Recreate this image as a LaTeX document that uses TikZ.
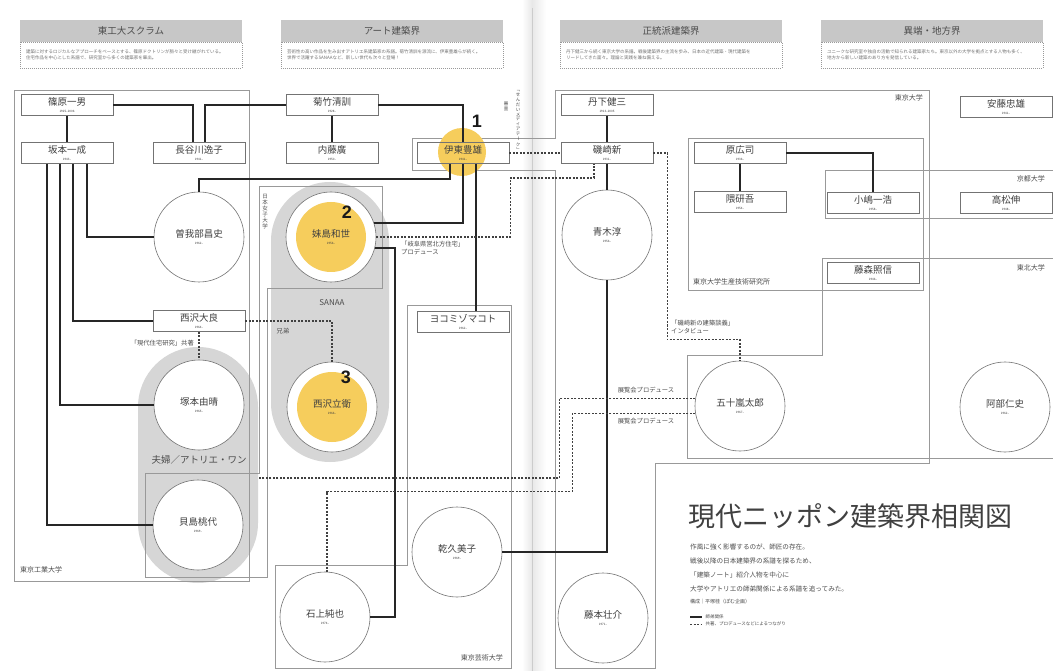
\documentclass[tikz,border=0pt]{standalone}
\usepackage{fontspec}
\setmainfont{Noto Sans CJK JP}
\newfontfamily\numfont{Liberation Sans}
\definecolor{hl}{RGB}{246,205,92}
\newcommand{\pn}[2]{#1\\[-2.5pt]{\fontsize{3}{3}\selectfont #2}}
\newcommand{\vr}[1]{\rotatebox[origin=c]{-90}{#1}}

\begin{document}
\begin{tikzpicture}[x=1pt,y=-1pt,
  pbox/.style={draw=black!55,line width=.6pt,fill=white,minimum width=92pt,
    minimum height=21pt,inner sep=0pt,align=center,
    font=\fontsize{9.5}{10}\selectfont,text=black!75},
  pring/.style={pbox,circle,minimum size=90pt},
  hiring/.style={pring,path picture={\fill[hl] (path picture bounding box.center) circle (35pt);}},
  zone/.style={draw=black!40,line width=.6pt},
  blob/.style={fill=black!16,inner sep=0pt},
  tie/.style={line width=1.6pt,black!85},
  link/.style={line width=1.1pt,black!75,dash pattern=on 2pt off 1.5pt},
  note/.style={font=\fontsize{6.3}{7.5}\selectfont,text=black!70,inner sep=1pt,align=left},
  uni/.style={font=\fontsize{7}{8}\selectfont,text=black!70,inner sep=0pt},
  hdr/.style={fill=black!22,minimum width=222pt,minimum height=22pt,inner sep=0pt,
    font=\fontsize{9.5}{10}\selectfont,text=black!70},
  desc/.style={draw=black!40,dash pattern=on 1pt off 1pt,minimum width=222pt,
    minimum height=26pt,inner sep=0pt,align=left,text width=210pt,
    font=\fontsize{4.5}{6.5}\selectfont,text=black!55},
  num/.style={font=\numfont\bfseries\fontsize{18}{18}\selectfont,text=black!90,inner sep=0pt}]
\useasboundingbox (0,0) rectangle (1053,671);
\fill[white] (0,0) rectangle (1053,671);
\shade[left color=white,right color=black!9] (522,0) rectangle (532,671);
\shade[left color=black!9,right color=white] (532,0) rectangle (546,671);
\draw[black!20,line width=.5pt] (532,8) -- (532,671);

\node[hdr] (h1) at (131,31) {東工大スクラム};
\node[desc] (d1) at (131,55) {建築に対するロジカルなアプローチをベースとする、篠原ドクトリンが脈々と受け継がれている。\\住宅作品を中心とした系譜で、研究室から多くの建築家を輩出。};
\node[hdr] (h2) at (392,31) {アート建築界};
\node[desc] (d2) at (392,55) {芸術性の高い作品を生み出すアトリエ系建築家の系譜。菊竹清訓を源流に、伊東豊雄らが続く。\\世界で活躍するSANAAなど、新しい世代も次々と登場！};
\node[hdr] (h3) at (671,31) {正統派建築界};
\node[desc] (d3) at (671,55) {丹下健三から続く東京大学の系譜。戦後建築界の主流を歩み、日本の近代建築・現代建築を\\リードしてきた面々。理論と実践を兼ね備える。};
\node[hdr] (h4) at (932,31) {異端・地方界};
\node[desc] (d4) at (932,55) {ユニークな研究室や独自の活動で知られる建築家たち。東京以外の大学を拠点とする人物も多く、\\地方から新しい建築のあり方を発信している。};

\node[blob,minimum width=118pt,minimum height=280pt,rounded corners=59pt] (sanaa) at (330,322) {};
\node[blob,minimum width=120pt,minimum height=236pt,rounded corners=60pt] (bowwow) at (198,465) {};

\draw[zone] (14,90) rectangle (249,581);
\draw[zone] (259,186) -- (382,186) -- (382,288) -- (267,288) -- (267,577)
  -- (145,577) -- (145,473) -- (259,473) -- cycle;
\draw[zone] (555,90) -- (929,90) -- (929,463) -- (655,463) -- (655,668)
  -- (555,668) -- (555,170) -- (412,170) -- (412,138) -- (555,138) -- cycle;
\draw[zone] (688,138) rectangle (923,290);
\draw[zone] (825,170) rectangle (1060,218);
\draw[zone] (822,258) -- (1060,258) -- (1060,458) -- (687,458) -- (687,355)
  -- (822,355) -- cycle;
\draw[zone] (407,305) -- (511,305) -- (511,668) -- (275,668) -- (275,565)
  -- (407,565) -- cycle;

\node[uni,anchor=west] (ltit) at (20,570) {東京工業大学};
\node[uni,align=center,font=\fontsize{5.5}{6}\selectfont] (ljwu) at (265,212) {日\\本\\女\\子\\大\\学};
\node[uni,anchor=east] (lut) at (923,98) {東京大学};
\node[uni,anchor=west] (liis) at (693,282) {東京大学生産技術研究所};
\node[uni,anchor=east] (lku) at (1045,179) {京都大学};
\node[uni,anchor=east] (ltu) at (1045,268) {東北大学};
\node[uni,anchor=east] (lgei) at (503,658) {東京芸術大学};
\node[uni,font=\fontsize{8}{9}\selectfont] (lsanaa) at (332,303) {SANAA};
\node[uni,font=\fontsize{9.5}{10}\selectfont] (lbow) at (199,460) {夫婦／アトリエ・ワン};

\fill[hl] (462,152) circle (24);

\node[pbox] (shino) at (67,105) {\pn{篠原一男}{1925--2006}};
\node[pbox] (saka) at (67,153) {\pn{坂本一成}{1943--}};
\node[pbox] (hase) at (199,153) {\pn{長谷川逸子}{1941--}};
\node[pbox] (kiku) at (332,105) {\pn{菊竹清訓}{1928--}};
\node[pbox] (nait) at (332,153) {\pn{内藤廣}{1950--}};
\node[pbox,fill=none] (ito) at (463,153) {\pn{伊東豊雄}{1941--}};
\node[pbox] (nisD) at (199,321) {\pn{西沢大良}{1964--}};
\node[pbox] (yoko) at (463,322) {\pn{ヨコミゾマコト}{1962--}};
\node[pbox] (tang) at (607,105) {\pn{丹下健三}{1913--2005}};
\node[pbox] (isoz) at (607,153) {\pn{磯崎新}{1931--}};
\node[pbox] (hara) at (740,153) {\pn{原広司}{1936--}};
\node[pbox] (kuma) at (740,202) {\pn{隈研吾}{1954--}};
\node[pbox] (koji) at (873,203) {\pn{小嶋一浩}{1958--}};
\node[pbox] (fuji) at (873,273) {\pn{藤森照信}{1946--}};
\node[pbox] (ando) at (1006,107) {\pn{安藤忠雄}{1941--}};
\node[pbox] (taka) at (1006,203) {\pn{高松伸}{1948--}};
\node[pring] (soga) at (199,237) {\pn{曽我部昌史}{1962--}};
\node[hiring] (seji) at (331,237) {\pn{妹島和世}{1956--}};
\node[pring] (tsuk) at (199,405) {\pn{塚本由晴}{1965--}};
\node[hiring] (nisR) at (332,407) {\pn{西沢立衛}{1966--}};
\node[pring] (kaij) at (198,525) {\pn{貝島桃代}{1969--}};
\node[pring] (ishi) at (325,617) {\pn{石上純也}{1974--}};
\node[pring] (inui) at (457,552) {\pn{乾久美子}{1969--}};
\node[pring] (aoki) at (607,235) {\pn{青木淳}{1956--}};
\node[pring] (igar) at (740,406) {\pn{五十嵐太郎}{1967--}};
\node[pring] (abe) at (1005,407) {\pn{阿部仁史}{1962--}};
\node[pring] (fujm) at (603,618) {\pn{藤本壮介}{1971--}};

\draw[tie] (shino) -- (saka);
\draw[tie] (shino.east) -| ([xshift=-6pt]hase.north);
\draw[tie] (kiku.west) -| ([xshift=6pt]hase.north);
\draw[tie] (kiku) -- (nait);
\draw[tie] (kiku.east) -| (ito.north);
\draw[tie] ([xshift=-13pt]ito.south) -- ++(0,15) -| (soga.north);
\draw[tie] (ito.south) |- (seji.18);
\draw[tie] ([xshift=13pt]ito.south) -- ([xshift=13pt]yoko.north);
\draw[tie] (seji.-14) -- ++(20,0) |- (ishi.east);
\draw[tie] ([xshift=20pt]saka.south) |- (soga.west);
\draw[tie] ([xshift=6pt]saka.south) |- (nisD.west);
\draw[tie] ([xshift=-7pt]saka.south) |- (tsuk.west);
\draw[tie] ([xshift=-20pt]saka.south) |- (kaij.west);
\draw[tie] (tang) -- (isoz);
\draw[tie] (isoz) -- (aoki);
\draw[tie] (aoki.south) |- (inui.east);
\draw[tie] (hara) -- (kuma);
\draw[tie] (hara.east) -| (koji.north);

\draw[link] (ito) -- (isoz);
\draw[link] (seji.east) -- ++(134,0) -- ++(0,-59) -| ([xshift=-13pt]isoz.south);
\draw[link] (isoz.east) -- ++(14,0) |- ([yshift=21pt]igar.north) -- (igar.north);
\draw[link] (nisD.east) -| (nisR.north);
\draw[link] (nisD) -- (tsuk);
\draw[link] (igar.170) -- ++(-136,0) |- ([yshift=-13pt]bowwow.east);
\draw[link] (igar.190) -- ++(-123,0) |- ([xshift=2pt,yshift=80pt]ishi.north)
  -- ([xshift=2pt]ishi.north);

\node[note,anchor=west] (lgifu) at (400,248) {「岐阜県営北方住宅」\\プロデュース};
\node[note,anchor=west] (ldan) at (670,327) {「磯崎新の建築談義」\\インタビュー};
\node[note] (lkyo) at (283,331) {兄弟};
\node[note,anchor=east] (lken) at (195,343) {「現代住宅研究」共著};
\node[note] (lten1) at (646,390) {展覧会プロデュース};
\node[note] (lten2) at (646,421) {展覧会プロデュース};
\node[uni,align=center,font=\fontsize{4.5}{4.8}\selectfont] (lsendai) at (518,120)
  {\vr{「}\\せ\\ん\\だ\\い\\メ\\デ\\ィ\\ア\\テ\\\vr{ー}\\ク\\\vr{」}};
\node[uni,align=center,font=\fontsize{4.5}{4.8}\selectfont] (lshin) at (506,106) {審\\査};

\node[num] (n1) at (477,121) {1};
\node[num] (n2) at (347,212) {2};
\node[num] (n3) at (346,377) {3};

\node[anchor=west,font=\fontsize{27}{27}\selectfont,text=black!75,inner sep=0pt]
  (title) at (688,516) {現代ニッポン建築界相関図};
\node[anchor=north west,align=left,font=\fontsize{6.6}{14}\selectfont,text=black!70,inner sep=0pt]
  (intro) at (690,544) {作風に強く影響するのが、師匠の存在。\\戦後以降の日本建築界の系譜を探るため、\\「建築ノート」紹介人物を中心に\\大学やアトリエの師弟関係による系譜を追ってみた。};
\node[anchor=west,font=\fontsize{5}{6}\selectfont,text=black!70,inner sep=0pt]
  (credit) at (690,602) {構成｜平塚桂（ぽむ企画）};
\coordinate (k1) at (690,617);
\coordinate (k2) at (690,624);
\draw[tie,line width=1.3pt] (k1) -- ++(12,0) node[anchor=west,font=\fontsize{4.5}{5}\selectfont,text=black!70,inner sep=0pt,xshift=3pt] (key1) {師弟関係};
\draw[link,line width=1pt] (k2) -- ++(12,0) node[anchor=west,font=\fontsize{4.5}{5}\selectfont,text=black!70,inner sep=0pt,xshift=3pt] (key2) {共著、プロデュースなどによるつながり};
\end{tikzpicture}
\end{document}
